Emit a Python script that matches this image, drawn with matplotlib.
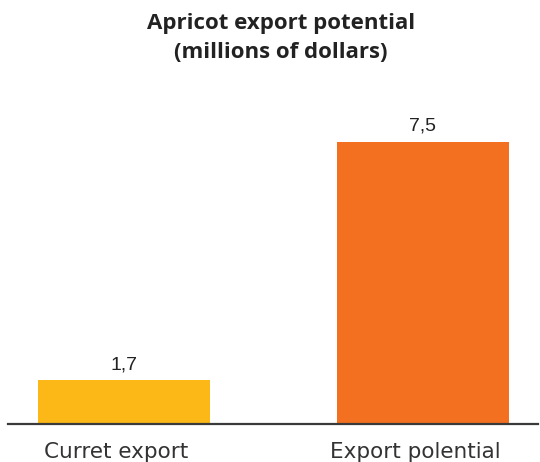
import matplotlib.pyplot as plt
from matplotlib.transforms import ScaledTranslation

# Data
categories = ['Curret export', 'Export polential']
values = [1.7, 7.5]
value_labels = ['1,7', '7,5']
colors = ['#FCB817', '#F37021']

fig = plt.figure(figsize=(5.4, 4.62), dpi=100)
ax = fig.add_axes([8 / 540, 38 / 462, 530 / 540, 324 / 462])

x = range(len(categories))
bars = ax.bar(x, values, width=0.575, color=colors)

for rect, lab in zip(bars, value_labels):
    ax.annotate(lab, xy=(rect.get_x() + rect.get_width() / 2, rect.get_height()),
                xytext=(0, 5), textcoords='offset points',
                ha='center', va='bottom', fontsize=14, color='#222222',
                family='Liberation Sans')

ax.set_xlim(-0.388, 1.385)
ax.set_ylim(0.63, 8.52)
ax.set_xticks(list(x))
ax.set_xticklabels(categories, fontsize=15.5, color='#333333', family='DejaVu Sans')
ax.tick_params(axis='x', length=0, pad=13)
# labels sit a little left of the bar centres in the original
shift = ScaledTranslation(-8 / 100, 0, fig.dpi_scale_trans)
for lab in ax.get_xticklabels():
    lab.set_transform(lab.get_transform() + shift)
ax.set_yticks([])
for s in ['top', 'left', 'right']:
    ax.spines[s].set_visible(False)
ax.spines['bottom'].set_color('#3a3a3a')
ax.spines['bottom'].set_linewidth(1.6)

fig.text(0.52, 1 - 24 / 462, 'Apricot export potential', ha='center', va='center',
         fontsize=16, fontweight='bold', color='#222222', family='Open Sans')
fig.text(0.52, 1 - 52 / 462, '(millions of dollars)', ha='center', va='center',
         fontsize=16, fontweight='bold', color='#222222', family='Open Sans')

fig.savefig('out.png', dpi=100)
